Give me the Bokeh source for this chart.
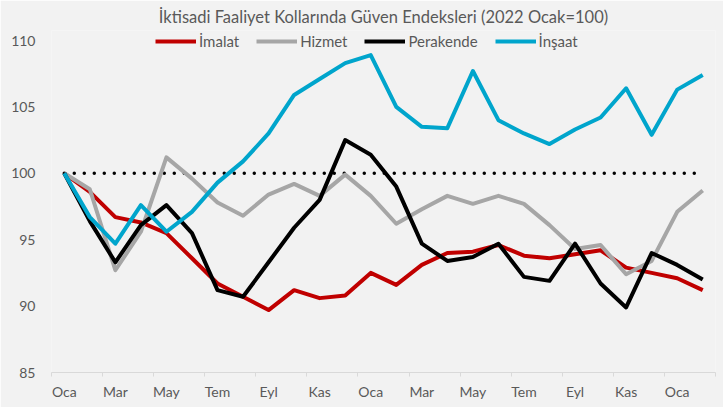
from bokeh.plotting import figure
from bokeh.models import Range1d, FixedTicker, Legend, LegendItem
from bokeh.embed import file_html
from bokeh.resources import INLINE

# ---- data ----
months = ["Oca", "Şub", "Mar", "Nis", "May", "Haz", "Tem", "Ağu", "Eyl", "Eki", "Kas", "Ara",
          "Oca", "Şub", "Mar", "Nis", "May", "Haz", "Tem", "Ağu", "Eyl", "Eki", "Kas", "Ara",
          "Oca", "Şub"]
imalat = [100, 98.6, 96.7, 96.3, 95.5, 93.6, 91.7, 90.7, 89.7, 91.2, 90.6, 90.8, 92.5,
          91.6, 93.1, 94.0, 94.1, 94.6, 93.8, 93.6, 93.9, 94.2, 92.9, 92.5, 92.1, 91.2]
hizmet = [100, 98.8, 92.7, 95.6, 101.2, 99.6, 97.8, 96.8, 98.4, 99.2, 98.3, 99.9, 98.3,
          96.2, 97.3, 98.3, 97.7, 98.3, 97.7, 96.1, 94.3, 94.6, 92.4, 93.4, 97.1, 98.7]
perakende = [100, 96.4, 93.3, 96.1, 97.6, 95.5, 91.2, 90.7, 93.3, 95.9, 98.0, 102.5, 101.4,
             99.0, 94.7, 93.4, 93.7, 94.7, 92.2, 91.9, 94.7, 91.7, 89.9, 94.0, 93.1, 92.0]
insaat = [100, 96.7, 94.7, 97.6, 95.6, 97.1, 99.3, 100.9, 103.0, 105.9, 107.1, 108.3, 108.9,
          105.0, 103.5, 103.4, 107.7, 104.0, 103.0, 102.2, 103.3, 104.2, 106.4, 102.9, 106.3, 107.4]
baseline = 100
series_names = ["İmalat", "Hizmet", "Perakende", "İnşaat"]
series_colors = ["#C00000", "#A6A6A6", "#000000", "#00A5CC"]
y_ticks = [85, 90, 95, 100, 105, 110]
title_text = "İktisadi Faaliyet Kollarında Güven Endeksleri (2022 Ocak=100)"

x = list(range(len(months)))
FONT = "Lato"
TXT = "#595959"

W, H = 723, 407
frame_left, frame_right = 51, 715
frame_top, frame_bottom = 30, 372
px_per_unit = 13.28
y_end = 85 + (frame_bottom - frame_top) / px_per_unit

p = figure(width=W, height=H, output_backend="svg", toolbar_location=None,
           x_range=Range1d(-0.5, len(months) - 0.5), y_range=Range1d(85, y_end),
           min_border_left=frame_left, min_border_right=W - frame_right,
           min_border_top=frame_top, min_border_bottom=H - frame_bottom,
           title=title_text)
p.background_fill_color = "#F2F2F2"
p.border_fill_color = "#F2F2F2"
p.outline_line_color = None
p.grid.visible = False

p.title.align = "center"
p.title.text_font = FONT
p.title.text_font_size = "16.5px"
p.title.text_font_style = "normal"
p.title.text_color = TXT
p.title.standoff = 7

# y axis
p.yaxis.ticker = FixedTicker(ticks=y_ticks)
p.yaxis.axis_line_color = None
p.yaxis.major_tick_line_color = None
p.yaxis.minor_tick_line_color = None
p.yaxis.major_tick_out = 0
p.yaxis.major_label_standoff = 16
p.yaxis.major_label_text_font = FONT
p.yaxis.major_label_text_font_size = "14px"
p.yaxis.major_label_text_color = TXT

# x axis
major = list(range(0, len(months), 2))
minor = [i - 0.5 for i in range(0, len(months) + 1, 2)]
p.xaxis.ticker = FixedTicker(ticks=major, minor_ticks=minor)
p.xaxis.major_label_overrides = {i: months[i] for i in major}
p.xaxis.axis_line_color = "#D9D9D9"
p.xaxis.major_tick_line_color = None
p.xaxis.major_tick_out = 0
p.xaxis.major_tick_in = 0
p.xaxis.minor_tick_line_color = "#D9D9D9"
p.xaxis.minor_tick_out = 4
p.xaxis.minor_tick_in = 0
p.xaxis.major_label_standoff = 6
p.xaxis.major_label_text_font = FONT
p.xaxis.major_label_text_font_size = "14px"
p.xaxis.major_label_text_color = TXT

# reference dotted line
p.line(x, [baseline] * len(x), line_color="black", line_width=3.5,
       line_dash="0 10", line_cap="round")

items = []
for name, ys, col in zip(series_names, [imalat, hizmet, perakende, insaat], series_colors):
    r = p.line(x, ys, line_color=col, line_width=4, line_join="round")
    items.append(LegendItem(label=name, renderers=[r]))

legend_bottom = (frame_bottom - frame_top) - (49.5 - frame_top)
legend = Legend(items=items, orientation="horizontal", location=(155 - frame_left, legend_bottom),
                glyph_width=41, glyph_height=16, label_standoff=3, spacing=17,
                padding=0, margin=0, border_line_color=None,
                background_fill_alpha=0, label_text_font=FONT,
                label_text_font_size="15px", label_text_color=TXT,
                label_height=16)
p.add_layout(legend, "center")

open("out.html", "w").write(file_html(p, INLINE))
